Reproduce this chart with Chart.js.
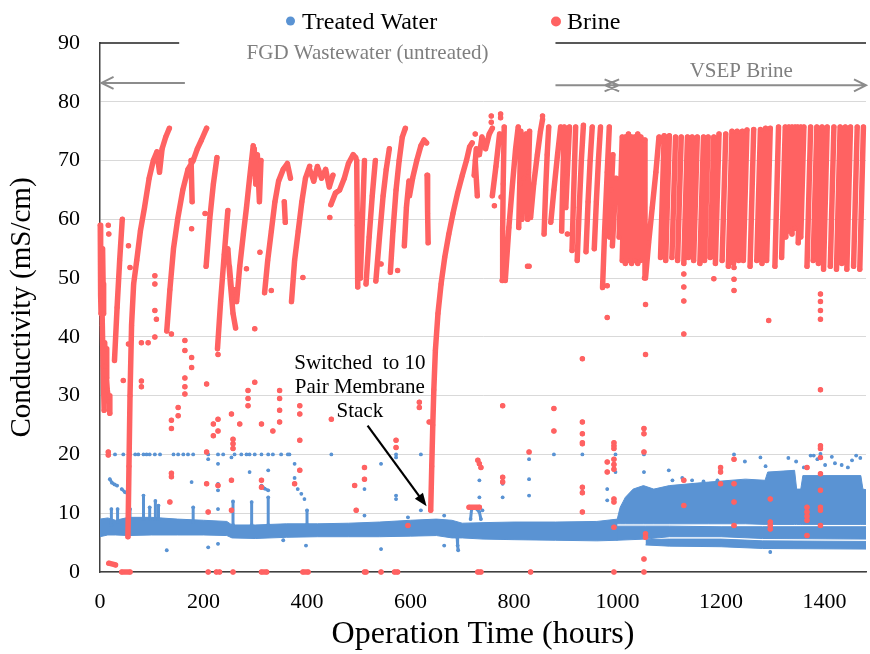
<!DOCTYPE html>
<html>
<head>
<meta charset="utf-8">
<title>Conductivity vs Operation Time</title>
<script src="https://cdn.jsdelivr.net/npm/chart.js@4.4.0/dist/chart.umd.min.js"></script>
<style>
  html, body { margin: 0; padding: 0; background: #fff; }
</style>
</head>
<body>
<canvas id="myChart" width="870" height="654"></canvas>
<script>
const SERIF = "'Liberation Serif', 'Times New Roman', serif";
const RED = '#ff6262';
const BLUE = '#5a93d3';

// x axis ticks (hours)
const xTicks = [0, 200, 400, 600, 800, 1000, 1200, 1400];

const brineRuns = [
  [[0.5,59],[1,53],[1.5,47],[2,44]],
  [[3,50],[4.5,42],[6,35],[8,27.5]],
  [[5,55],[6,49],[7,44]],
  [[9,39],[11,35],[14,31],[17,29]],
  [[12,38],[13,33]],
  [[18,30],[19,27]],
  [[28,36],[33,45],[38,53],[43,60]],
  [[54,6],[56,18],[58,30],[61,42],[65,49],[71,53],[78,58],[86,62],[95,67],[103,70],[110,71.5],[115,68],[120,72],[127,74],[134,75.5]],
  [[129,41],[135,48],[142,55],[150,60],[160,65],[170,68.5],[180,70],[188,72],[196,73.5],[206,75.5]],
  [[176,70],[178,63]],
  [[205,52],[212,60],[219,66],[226,70.5]],
  [[227,38],[233,46],[240,54],[247,61.5]],
  [[247,55],[252,49],[257,44],[262,41.5]],
  [[250,52],[255,47],[260,48]],
  [[264,46],[270,52],[277,57.5],[283,62],[289,67],[296,72.5]],
  [[298,72],[301,66],[304,71],[308,63],[311,70]],
  [[318,47.5],[324,53],[331,58],[338,63],[345,66.5],[354,68.5],[362,69.5],[368,67]],
  [[356,63],[358,59.5]],
  [[370,46],[376,53],[383,58],[390,63],[397,67],[405,69]],
  [[405,68.5],[413,66.5],[420,69],[428,67],[436,68.5],[443,65.5],[450,67.5]],
  [[446,62.5],[455,64.5],[463,65],[472,67],[480,69.5],[489,71],[494,70.5]],
  [[496,70],[497,59],[498,48.5]],
  [[503,50],[507,60],[511,70]],
  [[514,49],[520,57],[526,64],[532,70]],
  [[533,49.5],[540,57],[547,64],[553,68.5],[559,72]],
  [[561,51],[566,58],[572,65],[578,70],[584,74],[590,75.5]],
  [[588,55.5],[592,62],[597,66.5]],
  [[598,64],[604,67],[612,70],[620,72.5],[626,73.5],[631,73]],
  [[632,67.5],[633,61],[634,56]],
  [[639,10.5],[641,18],[643,25],[645,31],[648,37.7],[653,44],[659,49],[666,53.5],[674,57.5],[682,61],[691,64.5],[700,67.5],[708,70],[714,72.3],[719,73]],
  [[723,67.5],[727,72],[733,71],[738,74],[745,72],[752,74.5],[758,75.5]],
  [[725,70],[729,64]],
  [[758,64],[765,69],[772,74.5]],
  [[777,49.6],[778,58],[779,66],[781,75.7]],
  [[783,49.6],[790,58.6],[797,66],[803,72],[808,75.7]],
  [[809,58.6],[811,66],[813,75]],
  [[815,60],[819,67],[823,74.5]],
  [[826,60],[828,68],[830,75]],
  [[832,60.3],[838,66],[845,71],[851,75],[855,77]],
  [[858,57.5],[861,65],[864,71],[867,75.7]],
  [[871,59.5],[877,65],[884,71],[890,75.7]],
  [[892,58],[894,66],[897,75.7]],
  [[900,62],[903,68],[907,75.7]],
  [[912,54.7],[915,64],[919,75.7]],
  [[922,53],[926,62],[930,70],[934,76]],
  [[939,54.5],[943,63],[947,70],[951,75.7]],
  [[955,55],[959,63],[963,70],[967,75.7]],
  [[971,48.4],[975,58],[980,68],[984,75.7]],
  [[985,57],[988,65],[991,71]],
  [[990,55.5],[994,62],[997,67]],
  [[1003,57],[1009,74]],
  [[1009,53],[1015,74]],
  [[1015,52.5],[1021,74.5]],
  [[1021,53],[1027,74]],
  [[1027,52.5],[1033,74]],
  [[1033,53],[1039,74.5]],
  [[1039,52.5],[1045,74]],
  [[1044,53],[1050,73.5]],
  [[1052,50],[1053,73.5]],
  [[1054,50],[1060,56],[1067,62],[1074,68],[1080,74]],
  [[1083,53.5],[1090,74.2]],
  [[1093,53],[1100,74.2]],
  [[1105,53.5],[1112,74]],
  [[1116,53],[1123,74]],
  [[1128,52.5],[1135,74]],
  [[1137,53.5],[1144,74]],
  [[1147,53],[1154,74]],
  [[1159,52.5],[1166,74]],
  [[1168,53],[1175,74]],
  [[1179,53.5],[1186,74]],
  [[1189,52.5],[1196,74.5]],
  [[1202,53],[1209,74.5]],
  [[1214,52],[1221,75]],
  [[1224,52.5],[1231,75]],
  [[1234,53],[1241,75]],
  [[1243,53],[1250,75.2]],
  [[1256,52],[1263,75.3]],
  [[1269,53],[1276,75.3]],
  [[1279,52.5],[1286,75.5]],
  [[1288,53],[1295,75.5]],
  [[1304,52],[1311,75.7]],
  [[1317,53.5],[1324,75.7]],
  [[1325,57],[1331,75.7]],
  [[1331,58],[1337,75.7]],
  [[1337,57.5],[1343,75.7]],
  [[1343,58.5],[1348,75.7]],
  [[1349,56],[1354,75.7]],
  [[1354,57],[1360,75.7]],
  [[1366,52],[1373,75.7]],
  [[1378,53],[1385,75.7]],
  [[1388,52.5],[1395,75.7]],
  [[1398,51.5],[1405,75.7]],
  [[1411,52],[1418,75.7]],
  [[1423,51.5],[1430,75.7]],
  [[1433,52.5],[1440,75.7]],
  [[1443,51.5],[1450,75.7]],
  [[1456,52],[1463,75.7]],
  [[1468,51.5],[1475,75.7]],
  [[713,11],[733,11]],
  [[17,1.5],[30,1.2]],
  [[42,0],[58,0]],
  [[312,0],[322,0]],
  [[392,0],[402,0]],
  [[569,0],[575,0]],
  [[730,0],[736,0]]
];

// single brine readings away from the main traces
const brineDots = [
  [16,20.4],[16,19.9],[16,59],[17,57.5],[55,38.8],[45,32.6],[58,51.8],[55,55.5],
  [80,39],[80,32.5],[80,31.5],[93,39],[106,50.4],[106,49],[106,44.5],[109,43],[106,40],
  [138,40.5],[138,25.8],[138,24.4],[138,16.8],[138,16.2],[135,11.9],[151,28],[151,26.6],
  [164,39.4],[164,37.7],[164,33],[164,31.5],[164,30.3],[177,36.5],[177,34.8],[177,58.4],[203,61],
  [206,32],[206,20.4],[206,15],[209,10.2],[219,25.2],[219,23.2],[228,26],[228,24],[228,14.7],[228,37],
  [254,26.9],[257,22.6],[257,21.8],[257,21],[254,15.6],[254,10.5],[270,25.2],
  [286,30.9],[286,29.5],[286,28.3],[299,32.3],[312,25.2],[312,15.6],[312,14.4],[334,24],
  [347,30.9],[347,29.5],[347,27.5],[347,25.5],[283,51.6],[309,54.4],[299,41.4],[331,47.9],[392,50.1],[444,60.3],
  [386,28.3],[386,26.9],[386,22.4],[386,17.3],[376,15],[447,26],[492,14.7],[495,10.5],[511,17.8],[511,15.8],
  [543,52.4],[575,51.3],[572,22.4],[572,21.2],[595,7.9],[617,28.9],[617,28],[636,25.5],[730,19],[733,18.4],[736,17.8],
  [725,74.5],[756,77.6],[756,76.5],[774,77.9],[774,77.3],[855,77.6],[762,62.3],[775,63.8],[826,52],[829,52],[903,57.5],
  [778,28.3],[778,16.1],[778,15.3],[829,20.4],[877,27.8],[877,24],[932,25.5],[932,23.5],[932,22],[932,21.8],
  [932,14.4],[932,13.5],[932,10.2],[932,36.3],[980,18.7],[980,17],[980,48.7],[980,43.3],
  [993,22],[993,21.5],[993,21],[993,19.2],[993,18.3],[993,17.5],[993,12.4],[993,11.9],[993,7.6],
  [1051,24.4],[1051,23.5],[1051,20.4],[1054,6.5],[1054,5.9],[1051,2.2],[1054,45.5],[1054,37],
  [1128,15.6],[1128,11.3],[1128,50.7],[1128,48.5],[1128,46.1],[1128,40.5],[1186,49.9],
  [1199,17.8],[1199,17],[1199,15],[1225,19.2],[1225,15],[1225,11.9],[1225,7.9],[1225,51.8],[1225,49.8],[1225,47.9],
  [1295,12.4],[1295,8.5],[1295,7.9],[1295,7.3],[1292,42.8],
  [1366,17.8],[1366,11],[1366,10.2],[1366,9.5],[1366,8.8],[1366,6.2],
  [1392,21.5],[1392,21],[1392,19.5],[1392,16.7],[1392,13.9],[1392,11],[1392,10.5],[1392,7.9],[1392,31],
  [1392,47.3],[1392,46],[1392,44.5],[1392,43],
  [209,0],[225,0],[231,0],[257,0],[511,0],[514,0],[543,0],[832,0],[993,0],[1051,0]
];

// treated water: short runs (spikes, drifting readings)
const waterRuns = [
  [[19,15.8],[23,15.2],[28,14.9],[33,14.7]],
  [[42,14.1],[48,13.6],[54,13.3]],
  [[312,14.7],[318,14.2],[325,13.9]],
  [[22,8],[22,10.7]],
  [[34,8.5],[34,10.7]],
  [[58,9],[58,10.7]],
  [[84,9],[84,13]],
  [[96,9],[96,11]],
  [[107,9],[107,12.1]],
  [[113,9],[113,11.3]],
  [[180,8.5],[180,11]],
  [[257,8],[257,12]],
  [[293,8],[293,11.9]],
  [[325,8],[325,12.7]],
  [[400,8],[400,10.5]],
  [[690,6],[691,4.5],[692,3.7]],
  [[716,9],[718,10.7],[725,10.9],[733,10.2],[736,9]]
];

const waterDots = [
  [16,20],[29,20],[45,20],[58,20],[68,20],[74,20],[84,20],[90,20],[96,20],[106,20],[116,20],[142,20],[151,20],
  [161,20],[170,20],[180,20],[209,20],[228,20],[238,20],[260,20],[273,20],[283,20],[289,20],[299,20],[312,20],
  [325,20],[334,20],[350,20],[363,20],[366,20],[447,20],[572,20],[620,20],[877,20],[932,20],[996,20],[1051,20],
  [1225,20],[1392,20.1],
  [129,3.7],[177,15.3],[209,19.2],[209,4.2],[228,18.4],[228,15],[228,13.9],[228,10.7],[228,4.8],[254,19.5],
  [289,17],[325,17.3],[354,5.4],[376,18.4],[376,16],[382,14.1],[389,13.3],[395,12.4],[398,4.5],[511,14.1],
  [511,9.6],[543,18.4],[543,3.9],[572,19.5],[572,13],[572,12.4],[595,9.3],[620,10.5],[665,9.6],[665,4.5],
  [733,15.6],[733,12.7],[739,10.5],[778,15],[778,12.7],[829,19.2],[829,15.8],[829,13],[932,14.4],[932,13.7],
  [980,14.1],[980,12.2],[996,17],[1051,17],[1099,17.3],[1106,15.6],[1125,16],[1144,15.6],[1166,15.4],
  [1193,15.6],[1199,17.5],[1246,18.8],[1276,19.5],[1286,18],[1295,3.4],[1330,19.4],[1345,18.8],[1360,17.8],
  [1373,19.8],[1379,19.8],[1386,19.2],[1401,18.2],[1414,19.6],[1420,18.5],[1433,18.2],[1445,17.8],
  [1453,19],[1461,19.8],[1469,19.4]
];

// dense treated water band, upper and lower edges
const bandHours  = [0, 15, 30, 55, 100, 150, 200, 245, 255, 300, 360, 420, 480, 540, 600, 650, 680, 700, 740, 800, 880, 960, 1000];
const bandTop    = [9.0, 9.2, 8.8, 9.3, 9.3, 9.0, 8.8, 8.6, 8.0, 8.0, 8.2, 8.2, 8.3, 8.5, 8.8, 9.0, 8.8, 8.3, 8.4, 8.5, 8.5, 8.6, 9.0];
const bandBottom = [6.0, 6.3, 6.3, 6.2, 6.3, 6.3, 6.3, 6.2, 5.8, 5.7, 5.9, 6.0, 6.0, 6.0, 6.1, 6.2, 5.8, 5.8, 5.6, 5.5, 5.4, 5.3, 5.4];

// after 1000 h the band splits in three
const upperHours  = [998, 1005, 1015, 1030, 1050, 1070, 1100, 1176, 1247, 1285, 1290, 1342, 1346, 1354, 1358, 1470, 1474, 1480];
const upperTop    = [8.5, 11, 12.7, 14.1, 14.7, 14.1, 14.7, 15.3, 15.8, 15.6, 17.0, 17.3, 14.1, 14.1, 16.4, 16.4, 14.1, 14.0];
const upperBottom = [8.2, 8.2, 8.2, 8.2, 8.2, 8.2, 8.2, 8.2, 8.2, 8.1, 8.1, 8.1, 8.1, 8.1, 8.1, 8.1, 8.1, 8.1];

const midHours  = [998, 1054, 1100, 1200, 1280, 1480];
const midTop    = [7.8, 7.8, 7.8, 7.7, 7.7, 7.7];
const midBottom = [5.4, 5.6, 6.0, 6.0, 5.7, 5.6];

const lowHours  = [1054, 1100, 1200, 1280, 1480];
const lowTop    = [5.5, 5.6, 5.6, 5.3, 5.2];
const lowBottom = [4.6, 4.4, 4.3, 4.0, 3.9];


function toPoints(runs, dots) {
  var pts = [];
  runs.forEach(function (run) {
    run.forEach(function (p) { pts.push({x: p[0], y: p[1]}); });
    pts.push({x: run[run.length - 1][0], y: null}); // break the line
  });
  dots.forEach(function (p) {
    pts.push({x: p[0], y: p[1]});
    pts.push({x: p[0], y: null});
  });
  return pts;
}

function zip(hours, vals) {
  return hours.map(function (h, i) { return {x: h, y: vals[i]}; });
}

function bandPair(hours, top, bottom) {
  return [
    {data: zip(hours, top), fill: '+1', backgroundColor: BLUE, borderColor: BLUE, borderWidth: 1, pointRadius: 0},
    {data: zip(hours, bottom), fill: false, borderColor: BLUE, borderWidth: 1, pointRadius: 0}
  ];
}

// legend, arrows and notes drawn on top
const notes = {
  id: 'notes',
  afterDraw: function (chart) {
    var c = chart.ctx;
    var X = function (v) { return chart.scales.x.getPixelForValue(v); };
    var Y = function (v) { return chart.scales.y.getPixelForValue(v); };
    c.save();

    // legend
    c.fillStyle = BLUE;
    c.beginPath(); c.arc(290.5, 21, 4.5, 0, Math.PI * 2); c.fill();
    c.fillStyle = RED;
    c.beginPath(); c.arc(556, 21.5, 5, 0, Math.PI * 2); c.fill();
    c.fillStyle = '#000';
    c.font = '24px ' + SERIF;
    c.textAlign = 'left';
    c.textBaseline = 'alphabetic';
    c.fillText('Treated Water', 302, 28.5);
    c.fillText('Brine', 567, 28.5);

    // top frame, broken by the label box
    c.strokeStyle = '#222';
    c.lineWidth = 1.5;
    c.beginPath();
    c.moveTo(X(0), Y(90)); c.lineTo(X(153), Y(90));
    c.moveTo(X(880), Y(90)); c.lineTo(X(1480), Y(90));
    c.stroke();

    // period arrows
    c.strokeStyle = '#8c8c8c';
    c.lineWidth = 2;
    var ya = Y(83.2), yb = Y(82.8);
    c.beginPath();
    c.moveTo(X(3), ya); c.lineTo(X(164), ya);
    c.moveTo(X(880), yb); c.lineTo(X(1478), yb);
    // heads
    c.moveTo(X(3) + 12, ya - 6); c.lineTo(X(3), ya); c.lineTo(X(3) + 12, ya + 6);
    c.moveTo(X(1002) - 14, yb - 6); c.lineTo(X(1002), yb); c.lineTo(X(1002) - 14, yb + 6);
    c.moveTo(X(976) + 14, yb - 6); c.lineTo(X(976), yb); c.lineTo(X(976) + 14, yb + 6);
    c.moveTo(X(1480) - 12, yb - 6); c.lineTo(X(1480), yb); c.lineTo(X(1480) - 12, yb + 6);
    c.stroke();

    c.fillStyle = '#7f7f7f';
    c.font = '21px ' + SERIF;
    c.textAlign = 'center';
    c.fillText('FGD Wastewater (untreated)', X(517), Y(87.3));
    c.fillText('VSEP Brine', X(1239), Y(84.3));

    // membrane switch note
    c.fillStyle = '#000';
    c.fillText('Switched  to 10', X(502), Y(34.6));
    c.fillText('Pair Membrane', X(502), Y(30.4));
    c.fillText('Stack', X(502), Y(26.3));

    var x0 = X(517), y0 = Y(24.9), x1 = X(631), y1 = Y(11.2);
    var ang = Math.atan2(y1 - y0, x1 - x0);
    c.strokeStyle = '#000';
    c.lineWidth = 2.2;
    c.beginPath();
    c.moveTo(x0, y0);
    c.lineTo(x1 - 10 * Math.cos(ang), y1 - 10 * Math.sin(ang));
    c.stroke();
    c.beginPath();
    c.moveTo(x1, y1);
    c.lineTo(x1 - 13 * Math.cos(ang) + 5 * Math.sin(ang), y1 - 13 * Math.sin(ang) - 5 * Math.cos(ang));
    c.lineTo(x1 - 13 * Math.cos(ang) - 5 * Math.sin(ang), y1 - 13 * Math.sin(ang) + 5 * Math.cos(ang));
    c.closePath();
    c.fill();

    c.restore();
  }
};

const ctx = document.getElementById('myChart').getContext('2d');

let myChart = new Chart(ctx, {
  type: 'line',
  data: {
    datasets: [
      {
        label: 'Brine',
        data: toPoints(brineRuns, brineDots),
        borderColor: RED,
        backgroundColor: RED,
        pointBackgroundColor: RED,
        borderWidth: 5.5,
        pointRadius: 2.5,
        pointBorderWidth: 0,
        borderCapStyle: 'round',
        borderJoinStyle: 'round',
        fill: false,
        clip: 6
      },
      {
        label: 'Treated Water',
        data: toPoints(waterRuns, waterDots),
        borderColor: BLUE,
        backgroundColor: BLUE,
        pointBackgroundColor: BLUE,
        borderWidth: 3,
        pointRadius: 1.9,
        pointBorderWidth: 0,
        borderCapStyle: 'round',
        fill: false,
        clip: 6
      }
    ].concat(
      bandPair(bandHours, bandTop, bandBottom),
      bandPair(upperHours, upperTop, upperBottom),
      bandPair(midHours, midTop, midBottom),
      bandPair(lowHours, lowTop, lowBottom)
    )
  },
  options: {
    responsive: false,
    animation: false,
    layout: { padding: { top: 43, right: 2, left: 0, bottom: 0 } },
    plugins: {
      legend: { display: false },
      tooltip: { enabled: false }
    },
    elements: { line: { tension: 0 } },
    scales: {
      x: {
        type: 'linear',
        min: 0,
        max: 1480,
        afterFit: function (s) { s.height = 82; },
        afterBuildTicks: function (s) { s.ticks = xTicks.map(function (v) { return {value: v}; }); },
        grid: { display: false, drawTicks: false },
        border: { color: '#404040', width: 1.5 },
        ticks: {
          padding: 17, color: '#000', maxRotation: 0,
          font: { family: SERIF, size: 22 },
          callback: function (v) { return String(v); }
        },
        title: {
          display: true,
          text: 'Operation Time (hours)',
          color: '#000',
          font: { family: SERIF, size: 32 },
          padding: { top: 0, bottom: 0 }
        }
      },
      y: {
        min: 0,
        max: 90,
        afterFit: function (s) { s.width = 100; },
        grid: {
          drawTicks: false,
          color: function (c) { return c.tick && c.tick.value === 90 ? 'rgba(0,0,0,0)' : '#d9d9d9'; }
        },
        border: { color: '#404040', width: 1.5 },
        ticks: { stepSize: 10, padding: 20, color: '#000', font: { family: SERIF, size: 22 } },
        title: {
          display: true,
          text: 'Conductivity (mS/cm)',
          color: '#000',
          font: { family: SERIF, size: 29 },
          padding: { top: 5, bottom: 0 }
        }
      }
    }
  },
  plugins: [notes]
});
</script>
</body>
</html>
